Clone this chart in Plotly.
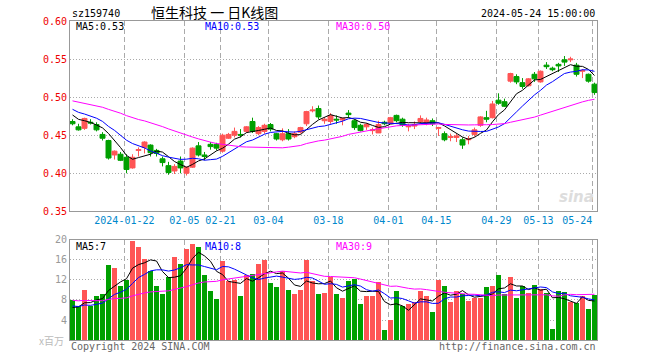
import plotly.graph_objects as go

# ---------------- data ----------------
open_ = [0.468, 0.461, 0.459, 0.467, 0.464, 0.451, 0.443, 0.424, 0.425, 0.421,
         0.407, 0.430, 0.434, 0.437, 0.430, 0.419, 0.410, 0.403, 0.416, 0.400,
         0.408, 0.436, 0.424, 0.438, 0.438, 0.429, 0.446, 0.450, 0.451, 0.455,
         0.468, 0.452, 0.455, 0.464, 0.452, 0.444, 0.452, 0.448, 0.454, 0.465,
         0.482, 0.485, 0.469, 0.468, 0.471, 0.470, 0.479, 0.469, 0.463, 0.461,
         0.456, 0.453, 0.467, 0.466, 0.476, 0.471, 0.461, 0.462, 0.468, 0.466,
         0.469, 0.459, 0.452, 0.447, 0.447, 0.444, 0.444, 0.451, 0.463, 0.473,
         0.473, 0.496, 0.494, 0.521, 0.527, 0.519, 0.515, 0.530, 0.520, 0.542,
         0.538, 0.543, 0.549, 0.549, 0.542, 0.534, 0.530, 0.517]
high = [0.471, 0.465, 0.473, 0.471, 0.467, 0.454, 0.444, 0.430, 0.428, 0.425,
        0.425, 0.434, 0.442, 0.438, 0.432, 0.422, 0.415, 0.412, 0.422, 0.409,
        0.434, 0.441, 0.428, 0.441, 0.440, 0.452, 0.453, 0.460, 0.458, 0.462,
        0.473, 0.462, 0.465, 0.466, 0.453, 0.459, 0.458, 0.455, 0.461, 0.482,
        0.488, 0.489, 0.473, 0.479, 0.476, 0.473, 0.483, 0.471, 0.465, 0.466,
        0.460, 0.469, 0.469, 0.474, 0.477, 0.473, 0.465, 0.468, 0.476, 0.473,
        0.472, 0.461, 0.455, 0.452, 0.452, 0.447, 0.449, 0.460, 0.475, 0.482,
        0.495, 0.505, 0.498, 0.532, 0.530, 0.525, 0.525, 0.533, 0.535, 0.546,
        0.540, 0.545, 0.554, 0.553, 0.545, 0.537, 0.531, 0.519]
low = [0.463, 0.456, 0.457, 0.464, 0.455, 0.443, 0.418, 0.418, 0.416, 0.400,
       0.406, 0.422, 0.426, 0.422, 0.422, 0.409, 0.398, 0.399, 0.400, 0.397,
       0.407, 0.422, 0.417, 0.431, 0.430, 0.427, 0.445, 0.447, 0.447, 0.453,
       0.453, 0.450, 0.452, 0.455, 0.443, 0.442, 0.443, 0.446, 0.452, 0.462,
       0.480, 0.471, 0.465, 0.465, 0.465, 0.463, 0.473, 0.457, 0.455, 0.457,
       0.451, 0.453, 0.463, 0.465, 0.467, 0.461, 0.455, 0.458, 0.465, 0.463,
       0.462, 0.449, 0.442, 0.442, 0.441, 0.432, 0.438, 0.448, 0.461, 0.467,
       0.472, 0.490, 0.487, 0.519, 0.517, 0.511, 0.514, 0.520, 0.519, 0.537,
       0.534, 0.533, 0.541, 0.546, 0.527, 0.525, 0.519, 0.503]
close = [0.465, 0.457, 0.472, 0.466, 0.457, 0.446, 0.420, 0.429, 0.417, 0.405,
         0.421, 0.431, 0.441, 0.427, 0.426, 0.414, 0.401, 0.409, 0.407, 0.408,
         0.433, 0.424, 0.422, 0.435, 0.433, 0.450, 0.451, 0.455, 0.450, 0.461,
         0.455, 0.460, 0.463, 0.458, 0.445, 0.452, 0.445, 0.452, 0.460, 0.481,
         0.483, 0.474, 0.471, 0.476, 0.470, 0.472, 0.477, 0.460, 0.456, 0.464,
         0.457, 0.464, 0.465, 0.473, 0.469, 0.463, 0.462, 0.464, 0.472, 0.470,
         0.465, 0.460, 0.444, 0.448, 0.449, 0.437, 0.445, 0.457, 0.474, 0.471,
         0.491, 0.492, 0.488, 0.531, 0.520, 0.514, 0.524, 0.524, 0.534, 0.540,
         0.536, 0.541, 0.546, 0.550, 0.530, 0.535, 0.521, 0.506]
volume = [8.0, 6.8, 9.9, 6.7, 8.7, 9.2, 15.0, 14.4, 10.8, 11.9,
          19.7, 18.6, 16.2, 13.7, 10.8, 9.2, 12.5, 16.6, 15.2, 18.2,
          19.1, 18.6, 13.0, 9.8, 8.2, 15.8, 11.8, 12.0, 8.8, 13.0,
          13.2, 15.2, 16.0, 11.4, 10.6, 13.8, 10.0, 9.2, 10.0, 16.0,
          11.8, 9.2, 9.4, 12.6, 9.2, 8.4, 11.8, 12.2, 7.2, 8.8,
          8.8, 11.6, 2.0, 4.0, 9.8, 6.7, 7.2, 7.6, 9.8, 8.8,
          5.6, 12.0, 10.8, 7.6, 9.8, 9.2, 7.8, 8.4, 8.4, 10.6,
          10.8, 13.0, 9.2, 12.6, 8.4, 10.8, 9.4, 11.0, 10.2, 9.4,
          2.2, 9.8, 9.6, 7.6, 7.4, 8.8, 6.2, 9.0]
# closes / volumes of the 29 sessions before the window (estimated from the MA lines' start)
close_before = [0.512, 0.515, 0.510, 0.505, 0.508, 0.503, 0.500, 0.497, 0.502, 0.506,
                0.499, 0.494, 0.497, 0.500, 0.496, 0.492, 0.495, 0.499, 0.494, 0.489,
                0.497, 0.494, 0.490, 0.488, 0.488, 0.486, 0.481, 0.477, 0.474]
volume_before = [9.5, 8.0, 7.6, 9.8, 8.9, 7.2, 8.4, 10.1, 8.7, 7.9,
                 8.3, 9.1, 7.5, 8.8, 8.0, 9.4, 8.2, 7.8, 8.6, 8.2,
                 7.8, 6.9, 7.4, 6.6, 6.8, 6.2, 5.8, 6.5, 6.0]
tick_days = [9, 19, 25, 33, 43, 53, 61, 71, 78, 87]
tick_labels = ["2024-01-22", "02-05", "02-21", "03-04", "03-18",
               "04-01", "04-15", "04-29", "05-13", "05-24"]
price_ticks = [0.35, 0.40, 0.45, 0.50, 0.55, 0.60]
volume_ticks = [4, 8, 12, 16, 20]
code = "sz159740"
title = "恒生科技 一 日K线图"
stamp = "2024-05-24 15:00:00"
price_ma_labels = ["MA5:0.53", "MA10:0.53", "MA30:0.50"]
volume_ma_labels = ["MA5:7", "MA10:8", "MA30:9"]

# ---------------- helpers ----------------
def moving_average(values, before, n):
    full = list(before) + list(values)
    off = len(before)
    return [sum(full[off + i - n + 1: off + i + 1]) / n for i in range(len(values))]

N = len(close)
xs = list(range(N))
RED = "#ff5555"
GREEN = "#00a000"
MA_COLORS = ["#000000", "#0000ff", "#ff00ff"]
MONO = "DejaVu Sans Mono"
GRID = "#aaaaaa"
FRAME = "#999999"

fig = go.Figure()
fig.add_trace(go.Candlestick(
    x=xs, open=open_, high=high, low=low, close=close,
    increasing=dict(line=dict(color=RED, width=1), fillcolor=RED),
    decreasing=dict(line=dict(color=GREEN, width=1), fillcolor=GREEN),
    whiskerwidth=0, xaxis="x", yaxis="y", showlegend=False, hoverinfo="skip"))
for n, col in zip([5, 10, 30], MA_COLORS):
    fig.add_trace(go.Scatter(x=xs, y=moving_average(close, close_before, n), mode="lines",
                             line=dict(color=col, width=1), xaxis="x", yaxis="y",
                             showlegend=False, hoverinfo="skip"))

bar_colors = [RED if c >= o else GREEN for o, c in zip(open_, close)]
fig.add_trace(go.Bar(x=xs, y=volume, marker=dict(color=bar_colors, line=dict(width=0)),
                     width=0.83, xaxis="x2", yaxis="y2", showlegend=False, hoverinfo="skip"))
for n, col in zip([5, 10, 30], MA_COLORS):
    fig.add_trace(go.Scatter(x=xs, y=moving_average(volume, volume_before, n), mode="lines",
                             line=dict(color=col, width=1), xaxis="x2", yaxis="y2",
                             showlegend=False, hoverinfo="skip"))

tickpos = [d - 0.35 for d in tick_days]
# the last label is kept inside the frame, as in the original
shown_labels = tick_labels[:-1] + [tick_labels[-1] + "\u00a0" * 5]
xcommon = dict(range=[-0.42, 87.42], showgrid=True, gridcolor=GRID, griddash="5px,3px",
               gridwidth=1, showline=True, mirror=True, linecolor=FRAME, linewidth=1,
               zeroline=False, ticks="", tickvals=tickpos, fixedrange=True,
               rangeslider=dict(visible=False))
P_BOT, V_TOP = 0.4034, 0.3135
fig.update_layout(
    width=660, height=360,
    margin=dict(l=70, r=63, t=21, b=20),
    paper_bgcolor="white", plot_bgcolor="white",
    boxgap=0.1, boxgroupgap=0.08, bargap=0,
    xaxis=dict(**xcommon, anchor="y", ticktext=shown_labels,
               tickfont=dict(family=MONO, size=10, color="#0088cc")),
    xaxis2=dict(**xcommon, anchor="y2", matches="x", showticklabels=False),
    yaxis=dict(domain=[P_BOT, 1], range=[0.35, 0.60], tickvals=price_ticks,
               ticktext=["%.2f" % v for v in price_ticks],
               tickfont=dict(family=MONO, size=10, color="#ee0000"),
               showgrid=True, gridcolor=GRID, griddash="1px,2px", showline=True,
               mirror=True, linecolor=FRAME, zeroline=False, ticks="", fixedrange=True),
    yaxis2=dict(domain=[0, V_TOP], range=[0, 20], tickvals=volume_ticks,
                ticktext=[str(v) for v in volume_ticks],
                tickfont=dict(family=MONO, size=10, color="#999999"),
                showgrid=True, gridcolor=GRID, griddash="1px,2px", showline=True,
                mirror=True, linecolor=FRAME, zeroline=False, ticks="", fixedrange=True),
)

def px_y(y):
    return (340 - y) / 319.0

def px_x(x):
    return (x - 70) / 527.0

ann = []
def text(t, x, y, color="#000000", anchor="left", size=10, family=MONO, **kw):
    ann.append(dict(text=t, x=px_x(x), y=px_y(y), xref="paper", yref="paper",
                    xanchor=anchor, yanchor="middle", showarrow=False,
                    font=dict(family=family, size=size, color=color), **kw))

text(code, 70, 13)
text(title, 214, 12.5, anchor="center", size=14, family="Noto Sans CJK SC")
text(stamp, 597, 13, anchor="right")
for lab, xx, col in zip(price_ma_labels, [74, 203, 334], MA_COLORS):
    text(lab, xx, 27, color=col)
for lab, xx, col in zip(volume_ma_labels, [74, 203, 334], MA_COLORS):
    text(lab, xx, 246, color=col)
text("x百万", 66, 341, color="#bbbbbb", anchor="right", family="Noto Sans CJK SC")
text("Copyright 2024 SINA.COM", 69, 346, color="#666666")
text("http://finance.sina.com.cn", 598, 346, color="#666666", anchor="right")
text("<b><i>sina</i></b>", 596, 197, color="#dddddd", anchor="right", size=15,
     family="DejaVu Sans")
fig.update_layout(annotations=ann)

fig.write_html("out.html", config=dict(displayModeBar=False, staticPlot=True),
               post_script="document.body.style.margin='0px';document.body.style.overflow='hidden';")
